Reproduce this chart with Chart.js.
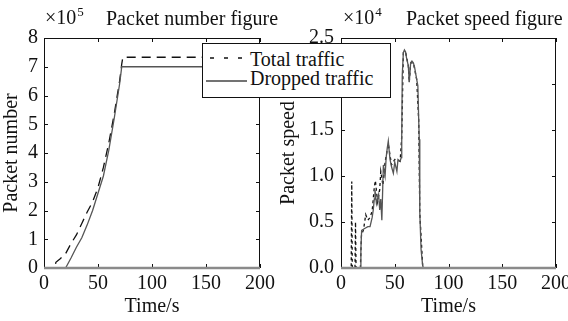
<!DOCTYPE html>
<html>
<head>
<meta charset="utf-8">
<script src="https://cdn.jsdelivr.net/npm/chart.js@4/dist/chart.umd.min.js"></script>
<style>
  body { margin: 0; width: 568px; height: 321px; overflow: hidden; position: relative; background: #fff; }
  canvas { position: absolute; top: 0; }
  #left { left: 0; }
  #right { left: 277px; }
  #legend {
    position: absolute; left: 202px; top: 43px; width: 189px; height: 55px;
    box-sizing: border-box; border: 1px solid #111; background: #fff;
    font-family: "Liberation Serif", "Times New Roman", serif; font-size: 20px; line-height: 20px; color: #111;
  }
  #legend span { position: absolute; left: 47px; white-space: nowrap; }
  #legend svg { position: absolute; left: 0; top: 0; }
</style>
</head>
<body>
<canvas id="left" width="285" height="321"></canvas>
<canvas id="right" width="305" height="321"></canvas>
<div id="legend">
  <svg width="50" height="53">
    <line x1="7" y1="14" x2="45" y2="14" stroke="#111" stroke-width="1.3" stroke-dasharray="4 10"></line>
    <line x1="3" y1="37" x2="44" y2="37" stroke="#444" stroke-width="1.3"></line>
  </svg>
  <span style="top:5px">Total traffic</span>
  <span style="top:24px">Dropped traffic</span>
</div>
<script>
// Packet number figure (values in 1e5 packets)
const numberTotalTime = [0, 10, 11, 15, 20, 25, 30, 35, 40, 45, 50, 55, 60, 65, 70, 72, 73, 200];
const numberTotal     = [0, 0, 0.2, 0.32, 0.5, 0.85, 1.15, 1.55, 1.95, 2.3, 2.8, 3.5, 4.35, 5.35, 6.5, 7.1, 7.33, 7.33];
const numberDropTime  = [0, 20, 25, 30, 35, 40, 45, 50, 55, 60, 65, 70, 72, 200];
const numberDropped   = [0, 0, 0.35, 0.72, 1.05, 1.5, 2.0, 2.6, 3.2, 4.1, 5.2, 6.4, 7.0, 7.0];

// Packet speed figure (values in 1e4 packets/s)
const speedTotalTime = [0, 9.5, 10, 10.5, 13, 13.5, 14, 18, 19, 21, 23, 25, 27, 29, 31, 32, 34, 36, 37, 39, 41, 44, 47, 50, 55, 56.5, 58, 60, 62.6, 63.5, 64.8, 67.3, 70.4, 72.3, 73.3, 76, 77, 180];
const speedTotal     = [0, 0, 0.94, 0, 0, 0.5, 0, 0, 0.35, 0.42, 0.58, 0.52, 0.55, 0.62, 0.88, 0.95, 0.72, 0.85, 1.05, 0.9, 1.15, 1.35, 1.12, 1.18, 1.16, 1.43, 2.34, 2.35, 2.2, 2.02, 2.23, 2.23, 2.05, 1.6, 0.6, 0.02, 0, 0];
const speedDropTime  = [0, 18, 18.5, 19.2, 22, 25, 27, 29, 30, 31, 31.6, 33, 35, 36, 37, 38, 39.4, 41, 42, 43, 44, 45, 45.6, 47, 48.7, 50, 52, 53, 55, 56, 56.5, 57, 58, 59, 60, 61, 62.6, 63.5, 64.8, 66, 67.3, 68.5, 70.4, 71.5, 72.3, 72.8, 73.3, 74.5, 76, 77, 180];
const speedDropped   = [0, 0, 0.2, 0.41, 0.43, 0.45, 0.45, 0.55, 0.63, 0.75, 0.85, 0.7, 0.8, 0.63, 0.75, 0.52, 1.12, 1.0, 1.2, 1.3, 1.38, 1.25, 1.18, 1.1, 1.03, 1.15, 1.05, 1.18, 1.16, 1.2, 1.43, 2.1, 2.34, 2.37, 2.35, 2.28, 2.2, 2.02, 2.23, 2.25, 2.23, 2.18, 2.05, 1.98, 1.6, 1.4, 0.6, 0.2, 0.02, 0, 0];

const timeTicks = [0, 50, 100, 150, 200];

const FONT = '"Liberation Serif", "Times New Roman", serif';
Chart.defaults.font.family = FONT;
Chart.defaults.font.size = 20;
Chart.defaults.color = '#111';

const toPoints = (xs, ys) => xs.map((x, i) => ({ x: x, y: ys[i] }));

// MATLAB style box with inward ticks, title and exponent label
const framePlugin = {
    id: 'frame',
    afterDatasetsDraw(chart, args, opts) {
        const { ctx, chartArea: a, scales } = chart;
        ctx.save();
        ctx.strokeStyle = '#111';
        ctx.lineWidth = 1;
        ctx.strokeRect(a.left + 0.5, a.top + 0.5, a.right - a.left - 1, a.bottom - a.top);

        ctx.beginPath();
        scales.x.ticks.forEach(t => {
            const px = Math.round(scales.x.getPixelForValue(t.value)) + 0.5;
            ctx.moveTo(px, a.bottom); ctx.lineTo(px, a.bottom - 4);
            ctx.moveTo(px, a.top); ctx.lineTo(px, a.top + 4);
        });
        scales.y.ticks.forEach(t => {
            const py = Math.round(scales.y.getPixelForValue(t.value)) + 0.5;
            ctx.moveTo(a.left, py); ctx.lineTo(a.left + 4, py);
            ctx.moveTo(a.right, py); ctx.lineTo(a.right - 4, py);
        });
        ctx.stroke();

        // bottom axis looks grey and heavier
        ctx.strokeStyle = '#8a8a8a';
        ctx.lineWidth = 2.5;
        ctx.beginPath();
        ctx.moveTo(a.left, a.bottom);
        ctx.lineTo(a.right, a.bottom);
        ctx.stroke();

        ctx.fillStyle = '#111';
        ctx.textBaseline = 'alphabetic';
        ctx.font = '20px ' + FONT;
        ctx.fillText('\u00d710', a.left + opts.expDx, 24);
        const w = ctx.measureText('\u00d710').width;
        ctx.font = '13px ' + FONT;
        ctx.fillText(opts.power, a.left + opts.expDx + w + 1, 16);
        ctx.font = '20px ' + FONT;
        ctx.fillText(opts.title, a.left + opts.titleDx, 25);
        ctx.restore();
    }
};

function makeChart(id, cfg) {
    const ctx = document.getElementById(id).getContext('2d');
    return new Chart(ctx, {
        type: 'line',
        data: {
            datasets: [{
                label: 'Total traffic',
                data: cfg.total,
                borderColor: '#111',
                borderWidth: 1.3,
                borderDash: cfg.dash,
                pointRadius: 0,
                tension: 0,
                order: 1
            }, {
                label: 'Dropped traffic',
                data: cfg.dropped,
                borderColor: '#555',
                borderWidth: 1.3,
                pointRadius: 0,
                tension: 0,
                order: 0
            }]
        },
        options: {
            responsive: false,
            animation: false,
            layout: { padding: { top: 38, right: cfg.padRight, left: 0, bottom: 0 } },
            plugins: {
                legend: { display: false },
                tooltip: { enabled: false },
                frame: cfg.frame
            },
            scales: {
                x: {
                    type: 'linear',
                    min: 0,
                    max: 200,
                    afterBuildTicks: scale => { scale.ticks = timeTicks.map(v => ({ value: v })); },
                    grid: { display: false, drawTicks: false },
                    border: { display: false },
                    ticks: { padding: 4, maxRotation: 0, color: '#111' },
                    title: { display: true, text: 'Time/s', padding: { top: 0, bottom: 2 } },
                    afterFit: scale => { scale.height = 53; }
                },
                y: {
                    min: 0,
                    max: cfg.yMax,
                    grid: { display: false, drawTicks: false },
                    border: { display: false },
                    ticks: { stepSize: cfg.yStep, padding: cfg.yPad, callback: cfg.yFormat, color: '#111' },
                    title: { display: true, text: cfg.yTitle, padding: { top: 0, bottom: 0 } },
                    afterFit: scale => { scale.width = cfg.yWidth; }
                }
            }
        },
        plugins: [framePlugin]
    });
}

makeChart('left', {
    total: toPoints(numberTotalTime, numberTotal),
    dropped: toPoints(numberDropTime, numberDropped),
    dash: [9, 6],
    padRight: 25,
    yMax: 8,
    yStep: 1,
    yPad: 6,
    yWidth: 44,
    yFormat: v => String(v),
    yTitle: 'Packet number',
    frame: { title: 'Packet number figure', power: '5', titleDx: 62, expDx: 1 }
});

makeChart('right', {
    total: toPoints(speedTotalTime, speedTotal),
    dropped: toPoints(speedDropTime, speedDropped),
    dash: [3, 3],
    padRight: 26,
    yMax: 2.5,
    yStep: 0.5,
    yPad: 7,
    yWidth: 64,
    yFormat: v => v.toFixed(1),
    yTitle: 'Packet speed',
    frame: { title: 'Packet speed figure', power: '4', titleDx: 65, expDx: 2 }
});
</script>
</body>
</html>
